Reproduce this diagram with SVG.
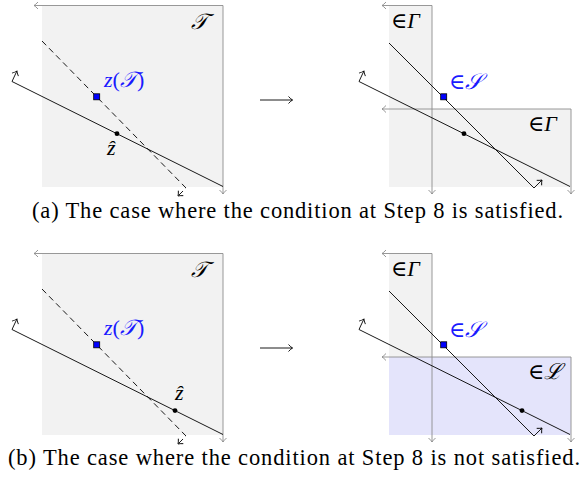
<svg xmlns="http://www.w3.org/2000/svg" width="587" height="477" viewBox="0 0 587 477">
<style>
.reg{fill:#f2f2f2;stroke:none}
.lreg{fill:#e4e4fb;stroke:none}
.bd{fill:none;stroke:#8c8c8c;stroke-width:0.9;marker-start:url(#ags);marker-end:url(#age)}
.ln{fill:none;stroke:#000;stroke-width:0.9}
.dash{stroke-dasharray:6 4}
.dot{fill:#000}
.sq{fill:#0000ff;stroke:#000;stroke-width:0.8}
.m{font-size:22px;fill:#000}
.it{font-style:italic}
.blue{fill:#1a1aff}
.cap{font-size:22.5px;fill:#000}
</style>
<defs>
<marker id="ags" viewBox="-6 -5 8 10" refX="0" refY="0" markerWidth="8" markerHeight="10" markerUnits="userSpaceOnUse" orient="auto-start-reverse" overflow="visible"><path d="M-4,-3.5 Q-1.5,-0.8 0,0 Q-1.5,0.8 -4,3.5" fill="none" stroke="#8c8c8c" stroke-width="0.9"/></marker>
<marker id="age" viewBox="-6 -5 8 10" refX="0" refY="0" markerWidth="8" markerHeight="10" markerUnits="userSpaceOnUse" orient="auto" overflow="visible"><path d="M-4,-3.5 Q-1.5,-0.8 0,0 Q-1.5,0.8 -4,3.5" fill="none" stroke="#8c8c8c" stroke-width="0.9"/></marker>
<marker id="abs" viewBox="-6 -5 8 10" refX="0" refY="0" markerWidth="8" markerHeight="10" markerUnits="userSpaceOnUse" orient="auto-start-reverse" overflow="visible"><path d="M-4,-3.5 Q-1.5,-0.8 0,0 Q-1.5,0.8 -4,3.5" fill="none" stroke="#000" stroke-width="0.9"/></marker>
<marker id="abe" viewBox="-6 -5 8 10" refX="0" refY="0" markerWidth="8" markerHeight="10" markerUnits="userSpaceOnUse" orient="auto" overflow="visible"><path d="M-4,-3.5 Q-1.5,-0.8 0,0 Q-1.5,0.8 -4,3.5" fill="none" stroke="#000" stroke-width="0.9"/></marker>
</defs>

<g id="panel-a-left" font-family="'Liberation Serif', 'DejaVu Serif', serif">
<rect class="reg" x="42" y="5.5" width="181" height="181.5"/>
<path class="bd" d="M34,5.5 H223 V194"/>
<path class="ln dash" d="M42,41 L186,188 L178,196" marker-end="url(#abe)"/>
<path class="ln" d="M16.9,71 L12,81.5 L223,186.5" marker-start="url(#abs)"/>
<rect class="sq" x="93.7" y="93.8" width="6" height="6"/>
<circle class="dot" cx="117" cy="133.7" r="2.4"/>
<text class="m it" x="191" y="29">𝒯</text>
<text class="m blue" x="104" y="87"><tspan class="it">z</tspan>(<tspan class="it">𝒯</tspan>)</text>
<text class="m it" x="107" y="155">ẑ</text>
</g>

<g id="panel-a-right" font-family="'Liberation Serif', 'DejaVu Serif', serif">
<rect class="reg" x="389" y="5.5" width="43" height="181.5"/>
<rect class="reg" x="389" y="109" width="182" height="78"/>
<path class="bd" d="M382,5.5 H432 V194"/>
<path class="bd" d="M382,109 H571 V194"/>
<path class="ln" d="M389,43 L534,188 L542,180" marker-end="url(#abe)"/>
<path class="ln" d="M363.9,71 L359,81.5 L570,186.5" marker-start="url(#abs)"/>
<rect class="sq" x="440.7" y="93.8" width="6" height="6"/>
<circle class="dot" cx="464" cy="133.7" r="2.4"/>
<text class="m" x="391" y="28">∈<tspan class="it">Γ</tspan></text>
<text class="m" x="528" y="131">∈<tspan class="it">Γ</tspan></text>
<text class="m blue" x="449" y="89">∈<tspan class="it">𝒮</tspan></text>
</g>

<g id="panel-b-left" font-family="'Liberation Serif', 'DejaVu Serif', serif">
<rect class="reg" x="42" y="253.5" width="181" height="181.5"/>
<path class="bd" d="M34,253.5 H223 V442"/>
<path class="ln dash" d="M42,289 L186,436 L178,444" marker-end="url(#abe)"/>
<path class="ln" d="M16.9,319 L12,329.5 L223,434.5" marker-start="url(#abs)"/>
<rect class="sq" x="93.7" y="341.8" width="6" height="6"/>
<circle class="dot" cx="175" cy="410.6" r="2.4"/>
<text class="m it" x="191" y="277">𝒯</text>
<text class="m blue" x="104" y="335"><tspan class="it">z</tspan>(<tspan class="it">𝒯</tspan>)</text>
<text class="m it" x="175" y="400">ẑ</text>
</g>

<g id="panel-b-right" font-family="'Liberation Serif', 'DejaVu Serif', serif">
<rect class="reg" x="389" y="253.5" width="43" height="104"/>
<rect class="lreg" x="389" y="357" width="182" height="78"/>
<path class="bd" d="M382,253.5 H432 V442"/>
<path class="bd" d="M382,357 H571 V442"/>
<path class="ln" d="M389,291 L534,436 L542,428" marker-end="url(#abe)"/>
<path class="ln" d="M363.9,319 L359,329.5 L570,434.5" marker-start="url(#abs)"/>
<rect class="sq" x="440.7" y="341.8" width="6" height="6"/>
<circle class="dot" cx="522" cy="410.6" r="2.4"/>
<text class="m" x="391" y="276">∈<tspan class="it">Γ</tspan></text>
<text class="m" x="528" y="379">∈<tspan class="it">ℒ</tspan></text>
<text class="m blue" x="449" y="337">∈<tspan class="it">𝒮</tspan></text>
</g>

<g id="connectors">
<path class="ln" d="M260,100 H292.5" marker-end="url(#abe)"/>
<path class="ln" d="M260,348 H292.5" marker-end="url(#abe)"/>
</g>

<g id="captions" font-family="'Liberation Serif', 'DejaVu Serif', serif">
<text class="cap" x="32" y="218" textLength="531">(a) The case where the condition at Step 8 is satisfied.</text>
<text class="cap" x="8" y="465" textLength="572">(b) The case where the condition at Step 8 is not satisfied.</text>
</g>
</svg>
